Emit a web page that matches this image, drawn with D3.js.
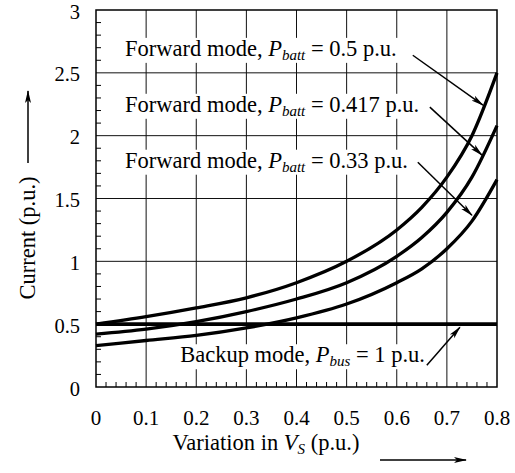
<!DOCTYPE html>
<html><head><meta charset="utf-8">
<script src="https://cdn.jsdelivr.net/npm/d3@7"></script>
<style>
body{margin:0;background:#fff;}
text{font-family:"Liberation Serif","Times New Roman",serif;fill:#000;}
</style></head>
<body>
<svg id="chart" width="515" height="473"></svg>
<script>
// ---- data ----
const variation = [0, 0.1, 0.2, 0.3, 0.4, 0.5, 0.6, 0.65, 0.7, 0.75, 0.8];
const forward050 = [0.50, 0.56, 0.63, 0.71, 0.83, 1.00, 1.25, 1.43, 1.67, 2.00, 2.50];
const forward0417 = [0.42, 0.46, 0.52, 0.60, 0.70, 0.83, 1.04, 1.19, 1.39, 1.67, 2.08];
const forward033 = [0.33, 0.37, 0.41, 0.47, 0.55, 0.66, 0.83, 0.94, 1.10, 1.32, 1.65];
const backupX = [0, 0.8];
const backupY = [0.5, 0.5];
const xTicks = [0, 0.1, 0.2, 0.3, 0.4, 0.5, 0.6, 0.7, 0.8];
const yTicks = [0, 0.5, 1, 1.5, 2, 2.5, 3];
const xTickLabels = ["0", "0.1", "0.2", "0.3", "0.4", "0.5", "0.6", "0.7", "0.8"];
const yTickLabels = ["0", "0.5", "1", "1.5", "2", "2.5", "3"];
const labelValues = ["0.5", "0.417", "0.33"];

const svg = d3.select("#chart");
const m = {left: 96, right: 18, top: 10, bottom: 86};
const W = 515, H = 473;
const x = d3.scaleLinear().domain([0, 0.8]).range([m.left, W - m.right]);
const y = d3.scaleLinear().domain([0, 3]).range([H - m.bottom, m.top]);

// arrow marker
const defs = svg.append("defs");
defs.append("marker").attr("id","ah").attr("viewBox","0 0 13 8")
  .attr("refX",12).attr("refY",4).attr("markerWidth",13).attr("markerHeight",8)
  .attr("markerUnits","userSpaceOnUse").attr("orient","auto")
  .append("path").attr("d","M0,1 L13,4 L0,7 L3,4 Z").attr("fill","#000");

// grid
const g = svg.append("g");
g.selectAll(".vg").data(xTicks.slice(1,-1)).join("line")
  .attr("x1",d=>x(d)).attr("x2",d=>x(d)).attr("y1",y(0)).attr("y2",y(3))
  .attr("stroke","#111").attr("stroke-width",1);
g.selectAll(".hg").data(yTicks.slice(1,-1)).join("line")
  .attr("y1",d=>y(d)).attr("y2",d=>y(d)).attr("x1",x(0)).attr("x2",x(0.8))
  .attr("stroke","#111").attr("stroke-width",1);

// minor ticks
const xMinor = d3.range(0, 0.8001, 0.02).filter(v => Math.abs(v*10 - Math.round(v*10)) > 1e-6);
g.selectAll(".xm").data(xMinor).join("line")
  .attr("x1",d=>x(d)).attr("x2",d=>x(d)).attr("y1",y(0)).attr("y2",y(0)-5)
  .attr("stroke","#000").attr("stroke-width",1);
const yMinor = d3.range(0, 3.0001, 0.1).filter(v => Math.abs(v*2 - Math.round(v*2)) > 1e-6);
g.selectAll(".ym").data(yMinor).join("line")
  .attr("y1",d=>y(d)).attr("y2",d=>y(d)).attr("x1",x(0)).attr("x2",x(0)+5)
  .attr("stroke","#000").attr("stroke-width",1);

// frame
g.append("rect").attr("x",x(0)).attr("y",y(3)).attr("width",x(0.8)-x(0)).attr("height",y(0)-y(3))
  .attr("fill","none").attr("stroke","#000").attr("stroke-width",1.5);

// tick labels
g.selectAll(".xl").data(xTicks).join("text")
  .attr("x",d=>x(d)).attr("y",y(0)+38).attr("text-anchor","middle")
  .attr("font-size",21).text((d,i)=>xTickLabels[i]);
g.selectAll(".yl").data(yTicks).join("text")
  .attr("x",x(0)-16).attr("y",d=>y(d)).attr("dy","0.42em").attr("text-anchor","end")
  .attr("font-size",20.5).text((d,i)=>yTickLabels[i]);

// curves
const line = d3.line().x(d=>x(d[0])).y(d=>y(d[1])).curve(d3.curveMonotoneX);
[forward050, forward0417, forward033].forEach(s => {
  svg.append("path").datum(variation.map((v,i)=>[v, s[i]]))
    .attr("d", line).attr("fill","none").attr("stroke","#000").attr("stroke-width",3.3);
});
svg.append("path").datum(backupX.map((v,i)=>[v, backupY[i]]))
  .attr("d", line).attr("fill","none").attr("stroke","#000").attr("stroke-width",3.8);

// annotations
const fs = 22.5, sub = 15;
const annG = svg.append("g");
const labY = [2.635, 2.19, 1.745];
const labTexts = [];
labelValues.forEach((v,i) => {
  const t = annG.append("text").attr("x",x(0.058)).attr("y",y(labY[i])).attr("font-size",fs);
  t.append("tspan").text("Forward mode, ");
  t.append("tspan").attr("font-style","italic").text("P");
  t.append("tspan").attr("font-style","italic").attr("font-size",sub).attr("dy",4).text("batt");
  t.append("tspan").attr("dy",-4).text(" = " + v + " p.u.");
  labTexts.push(t);
});
{
  const t = annG.append("text").attr("x",x(0.168)).attr("y",y(0.197)).attr("font-size",fs);
  t.append("tspan").text("Backup mode, ");
  t.append("tspan").attr("font-style","italic").text("P");
  t.append("tspan").attr("font-style","italic").attr("font-size",sub).attr("dy",4).text("bus");
  t.append("tspan").attr("dy",-4).text(" = 1 p.u.");
  labTexts.push(t);
}
// white backgrounds behind annotation labels
labTexts.forEach(t => {
  const b = t.node().getBBox();
  annG.insert("rect", () => t.node())
    .attr("x", b.x - 2).attr("y", b.y + 2).attr("width", b.width + 4).attr("height", b.height - 2)
    .attr("fill", "#fff");
});
const arrows = [
  [0.632, 2.64, 0.772, 2.243],
  [0.666, 2.227, 0.770, 1.845],
  [0.642, 1.789, 0.750, 1.367],
  [0.660, 0.173, 0.726, 0.475]
];
svg.selectAll(".arr").data(arrows).join("line")
  .attr("x1",d=>x(d[0])).attr("y1",d=>y(d[1])).attr("x2",d=>x(d[2])).attr("y2",d=>y(d[3]))
  .attr("stroke","#000").attr("stroke-width",1.5).attr("marker-end","url(#ah)");

// axis titles
{
  const t = svg.append("text").attr("x",266).attr("y",450).attr("text-anchor","middle").attr("font-size",fs);
  t.append("tspan").text("Variation in ");
  t.append("tspan").attr("font-style","italic").text("V");
  t.append("tspan").attr("font-style","italic").attr("font-size",sub).attr("dy",4).text("S");
  t.append("tspan").attr("dy",-4).text(" (p.u.)");
}
svg.append("line").attr("x1",380).attr("y1",460).attr("x2",466).attr("y2",460)
  .attr("stroke","#000").attr("stroke-width",1.5).attr("marker-end","url(#ah)");
svg.append("text").attr("transform","translate(35,238) rotate(-90)").attr("text-anchor","middle")
  .attr("font-size",fs).text("Current (p.u.)");
svg.append("line").attr("x1",28).attr("y1",163).attr("x2",28).attr("y2",91)
  .attr("stroke","#000").attr("stroke-width",1.5).attr("marker-end","url(#ah)");
</script>
</body></html>
